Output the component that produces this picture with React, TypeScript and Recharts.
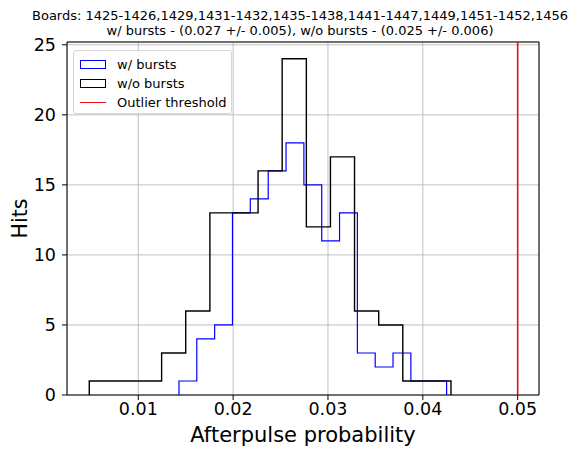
import React from 'react';
import {
  ComposedChart,
  Line,
  XAxis,
  YAxis,
  CartesianGrid,
  ReferenceLine,
  ReferenceArea,
} from 'recharts';

// bin edges + counts
const burstEdges = [
  0.01429, 0.01617, 0.01805, 0.01993, 0.02181, 0.0237, 0.02558, 0.02746,
  0.02934, 0.03122, 0.0331, 0.03498, 0.03686, 0.03874, 0.04062, 0.04251,
];
const burstCounts = [1, 4, 5, 13, 14, 16, 18, 15, 11, 13, 3, 2, 3, 1, 1];

const noBurstEdges = [
  0.00483, 0.00737, 0.00992, 0.01246, 0.015, 0.01755, 0.02009, 0.02263,
  0.02517, 0.02772, 0.03026, 0.0328, 0.03535, 0.03789, 0.04043, 0.04297,
];
const noBurstCounts = [1, 1, 1, 3, 6, 13, 13, 16, 24, 12, 17, 6, 5, 1, 1];

const xTicks = [0.01, 0.02, 0.03, 0.04, 0.05];
const yTicks = [0, 5, 10, 15, 20, 25];
const outlierThreshold = 0.05;

const titleLines = [
  'Boards: 1425-1426,1429,1431-1432,1435-1438,1441-1447,1449,1451-1452,1456',
  'w/ bursts - (0.027 +/- 0.005), w/o bursts - (0.025 +/- 0.006)',
];

const legendItems = [
  { label: 'w/ bursts', color: '#0000ff', kind: 'patch' },
  { label: 'w/o bursts', color: '#000000', kind: 'patch' },
  { label: 'Outlier threshold', color: '#ee1111', kind: 'line' },
];

const X_DOMAIN: [number, number] = [0.002483, 0.05225];
const Y_DOMAIN: [number, number] = [0, 25.2];
const FONT = '"DejaVu Sans", sans-serif';

// outline of a step histogram: up from 0, across each bin, back down to 0
function toSteps(edges: number[], counts: number[]) {
  const pts = [{ x: edges[0], y: 0 }];
  counts.forEach((c, i) => pts.push({ x: edges[i], y: c }));
  pts.push({ x: edges[edges.length - 1], y: counts[counts.length - 1] });
  pts.push({ x: edges[edges.length - 1], y: 0 });
  return pts;
}

function HitsLabel({ viewBox }: any) {
  const cy = viewBox ? viewBox.y + viewBox.height / 2 : 218;
  return (
    <text
      x={20}
      y={cy}
      transform={`rotate(-90, 20, ${cy})`}
      textAnchor="middle"
      dominantBaseline="central"
      fontSize={20.5}
      fontFamily={FONT}
      fill="#000"
    >
      Hits
    </text>
  );
}

export default function App() {
  const burstData = toSteps(burstEdges, burstCounts);
  const noBurstData = toSteps(noBurstEdges, noBurstCounts);

  return (
    <div
      style={{
        position: 'absolute',
        left: 0,
        top: 0,
        width: 587,
        height: 455,
        background: '#fff',
        fontFamily: FONT,
      }}
    >
      <div
        style={{
          position: 'absolute',
          left: 0,
          width: 600,
          top: 8,
          textAlign: 'center',
          fontSize: 13,
          lineHeight: '15px',
          color: '#000',
          whiteSpace: 'nowrap',
        }}
      >
        {titleLines.map((t) => (
          <div key={t}>{t}</div>
        ))}
      </div>

      <ComposedChart
        width={587}
        height={455}
        margin={{ top: 42, right: 48, bottom: 0, left: 0 }}
      >
        <CartesianGrid stroke="#b0b0b0" strokeWidth={0.8} />
        <XAxis
          type="number"
          dataKey="x"
          domain={X_DOMAIN}
          ticks={xTicks}
          allowDataOverflow
          tickFormatter={(v) => v.toFixed(2)}
          height={60}
          tickSize={5}
          tickMargin={3}
          axisLine={false}
          tickLine={{ stroke: '#000' }}
          tick={{ fontSize: 17.5, fill: '#000', fontFamily: FONT }}
          label={{
            value: 'Afterpulse probability',
            position: 'insideBottom',
            offset: 13,
            fontSize: 21,
            fill: '#000',
            fontFamily: FONT,
          }}
        />
        <YAxis
          type="number"
          domain={Y_DOMAIN}
          ticks={yTicks}
          allowDataOverflow
          width={67}
          tickSize={5}
          tickMargin={6}
          axisLine={false}
          tickLine={{ stroke: '#000' }}
          tick={{ fontSize: 17.5, fill: '#000', fontFamily: FONT }}
          label={<HitsLabel />}
        />
        <Line
          data={burstData}
          dataKey="y"
          type="stepAfter"
          stroke="#0000ff"
          strokeWidth={1.2}
          dot={false}
          activeDot={false}
          isAnimationActive={false}
        />
        <Line
          data={noBurstData}
          dataKey="y"
          type="stepAfter"
          stroke="#000"
          strokeWidth={1.4}
          dot={false}
          activeDot={false}
          isAnimationActive={false}
        />
        <ReferenceLine x={outlierThreshold} stroke="#ee1111" strokeWidth={1.6} />
        <ReferenceArea
          x1={X_DOMAIN[0]}
          x2={X_DOMAIN[1]}
          y1={Y_DOMAIN[0]}
          y2={Y_DOMAIN[1]}
          fill="none"
          fillOpacity={0}
          stroke="#000"
          strokeWidth={1}
        />
      </ComposedChart>

      <div
        style={{
          position: 'absolute',
          left: 73,
          top: 50,
          width: 157,
          height: 62,
          border: '1px solid #d5d5d5',
          borderRadius: 3,
          background: 'rgba(255,255,255,0.8)',
          fontSize: 13,
          color: '#000',
        }}
      >
        {legendItems.map((it, i) => (
          <div
            key={it.label}
            style={{
              position: 'absolute',
              left: 6,
              top: 4 + i * 19,
              height: 18,
              display: 'flex',
              alignItems: 'center',
              whiteSpace: 'nowrap',
            }}
          >
            {it.kind === 'patch' ? (
              <span
                style={{
                  display: 'inline-block',
                  width: 24,
                  height: 7,
                  border: `1.3px solid ${it.color}`,
                }}
              />
            ) : (
              <span
                style={{
                  display: 'inline-block',
                  width: 26,
                  height: 0,
                  borderTop: `1.6px solid ${it.color}`,
                }}
              />
            )}
            <span style={{ marginLeft: 11 }}>{it.label}</span>
          </div>
        ))}
      </div>
    </div>
  );
}
